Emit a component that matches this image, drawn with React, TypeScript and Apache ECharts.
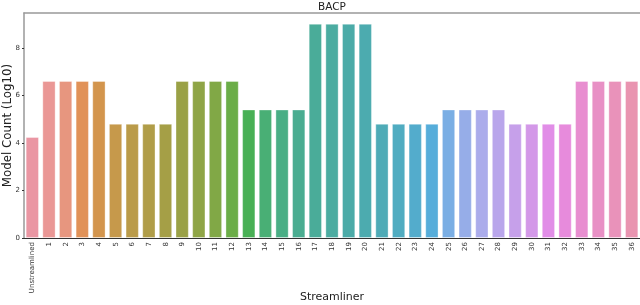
import React, { useEffect, useRef } from "react";
import * as echarts from "echarts";

const categories: string[] = [
  "Unstreamlined", "1", "2", "3", "4", "5", "6", "7", "8", "9", "10", "11", "12",
  "13", "14", "15", "16", "17", "18", "19", "20", "21", "22", "23", "24",
  "25", "26", "27", "28", "29", "30", "31", "32", "33", "34", "35", "36",
];
const modelCountLog10: number[] = [
  4.25,
  6.61, 6.61, 6.61, 6.61,
  4.81, 4.81, 4.81, 4.81,
  6.61, 6.61, 6.61, 6.61,
  5.41, 5.41, 5.41, 5.41,
  9.02, 9.02, 9.02, 9.02,
  4.81, 4.81, 4.81, 4.81,
  5.41, 5.41, 5.41, 5.41,
  4.81, 4.81, 4.81, 4.81,
  6.61, 6.61, 6.61, 6.61,
];
const yTicks: number[] = [0, 2, 4, 6, 8];

// ---- seaborn husl palette (l=.7) desaturated to .75 ----
const M = [
  [3.2406, -1.5372, -0.4986],
  [-0.9689, 1.8758, 0.0415],
  [0.0557, -0.204, 1.057],
];
const refU = 0.19784;
const refV = 0.46834;
function maxChroma(L: number, H: number) {
  const hrad = (H * Math.PI) / 180;
  const sinH = Math.sin(hrad);
  const cosH = Math.cos(hrad);
  const sub1 = Math.pow(L + 16, 3) / 1560896.0;
  const sub2 = sub1 > 0.008856 ? sub1 : L / 903.3;
  let result = Infinity;
  for (const row of M) {
    const [m1, m2, m3] = row;
    const top = (0.99915 * m1 + 1.05122 * m2 + 1.1446 * m3) * sub2;
    const rbottom = 0.8633 * m3 - 0.17266 * m2;
    const lbottom = 0.12949 * m3 - 0.38848 * m1;
    const bottom = (rbottom * sinH + lbottom * cosH) * sub2;
    for (const t of [0, 1]) {
      const C = (L * (top - 1.05122 * t)) / (bottom + 0.17266 * sinH * t);
      if (C > 0 && C < result) result = C;
    }
  }
  return result;
}
function fInv(t: number) {
  return Math.pow(t, 3) > 0.008856 ? Math.pow(t, 3) : (116 * t - 16) / 903.3;
}
function fromLinear(c: number) {
  return c <= 0.0031308 ? 12.92 * c : 1.055 * Math.pow(c, 1 / 2.4) - 0.055;
}
function huslToRgb(h: number, s: number, l: number): number[] {
  const C = (maxChroma(l, h) / 100) * s;
  const hr = (h * Math.PI) / 180;
  const U = Math.cos(hr) * C;
  const V = Math.sin(hr) * C;
  const Y = fInv((l + 16) / 116);
  const varU = U / (13 * l) + refU;
  const varV = V / (13 * l) + refV;
  const X = 0 - (9 * Y * varU) / ((varU - 4) * varV - varU * varV);
  const Z = (9 * Y - 15 * varV * Y - varV * X) / (3 * varV);
  return M.map((r) => Math.min(1, Math.max(0, fromLinear(r[0] * X + r[1] * Y + r[2] * Z))));
}
function rgbToHls(r: number, g: number, b: number) {
  const maxc = Math.max(r, g, b);
  const minc = Math.min(r, g, b);
  const l = (minc + maxc) / 2;
  if (maxc === minc) return [0, l, 0];
  const s = l <= 0.5 ? (maxc - minc) / (maxc + minc) : (maxc - minc) / (2 - maxc - minc);
  const rc = (maxc - r) / (maxc - minc);
  const gc = (maxc - g) / (maxc - minc);
  const bc = (maxc - b) / (maxc - minc);
  let h;
  if (r === maxc) h = bc - gc;
  else if (g === maxc) h = 2 + rc - bc;
  else h = 4 + gc - rc;
  h = (((h / 6) % 1) + 1) % 1;
  return [h, l, s];
}
function v(m1: number, m2: number, hue: number) {
  hue = ((hue % 1) + 1) % 1;
  if (hue < 1 / 6) return m1 + (m2 - m1) * hue * 6;
  if (hue < 0.5) return m2;
  if (hue < 2 / 3) return m1 + (m2 - m1) * (2 / 3 - hue) * 6;
  return m1;
}
function hlsToRgb(h: number, l: number, s: number) {
  if (s === 0) return [l, l, l];
  const m2 = l <= 0.5 ? l * (1 + s) : l + s - l * s;
  const m1 = 2 * l - m2;
  return [v(m1, m2, h + 1 / 3), v(m1, m2, h), v(m1, m2, h - 1 / 3)];
}
function palette(n: number): string[] {
  const out: string[] = [];
  for (let i = 0; i < n; i++) {
    let h = i / n + 0.01;
    h = (h % 1) * 359;
    const [r, g, b] = huslToRgb(h, 0.9 * 99, 0.7 * 99);
    const [hh, ll, ss] = rgbToHls(r, g, b);
    const [r2, g2, b2] = hlsToRgb(hh, ll, ss * 0.75);
    const toHex = (x: number) => Math.round(x * 255).toString(16).padStart(2, "0");
    out.push("#" + toHex(r2) + toHex(g2) + toHex(b2));
  }
  return out;
}

export default function App() {
  const ref = useRef<HTMLDivElement>(null);
  useEffect(() => {
    if (!ref.current) return;
    const chart = echarts.init(ref.current, undefined, { renderer: "svg" });
    const colors = palette(categories.length);
    const font = "DejaVu Sans";
    chart.setOption({
      animation: false,
      textStyle: { fontFamily: font },
      title: {
        text: "BACP",
        left: 332,
        textAlign: "center",
        top: 0,
        padding: 0,
        textStyle: { fontFamily: font, fontSize: 10.5, fontWeight: "normal", color: "#222" },
      },
      grid: {
        left: 24,
        right: 0,
        top: 13,
        bottom: 67,
        containLabel: false,
        outerBoundsMode: "none",
      },
      xAxis: [
        {
          type: "category",
          data: categories,
          name: "Streamliner",
          nameLocation: "middle",
          nameGap: 53,
          nameMoveOverlap: false,
          nameTextStyle: { fontFamily: font, fontSize: 11, color: "#222" },
          axisLine: { lineStyle: { color: "#333", width: 1 } },
          axisTick: { alignWithLabel: true, length: 3, lineStyle: { color: "#333" } },
          axisLabel: {
            rotate: 90,
            interval: 0,
            fontSize: 7,
            color: "#333",
            margin: 4,
            fontFamily: font,
          },
        },
        {
          type: "category",
          data: categories,
          position: "top",
          axisLine: { lineStyle: { color: "#999", width: 1.5 } },
          axisTick: { show: false },
          axisLabel: { show: false },
        },
      ],
      yAxis: {
        type: "value",
        min: 0,
        max: 9.47,
        interval: 2,
        name: "Model Count (Log10)",
        nameLocation: "middle",
        nameGap: 11,
        nameMoveOverlap: false,
        nameTextStyle: { fontFamily: font, fontSize: 11.8, color: "#222" },
        splitLine: { show: false },
        axisLine: { show: true, lineStyle: { color: "#999", width: 1.5 } },
        axisTick: { show: true, length: 2, lineStyle: { color: "#333" }, customValues: yTicks },
        axisLabel: { fontSize: 7, color: "#333", margin: 4, fontFamily: font, customValues: yTicks },
      },
      series: [
        {
          type: "bar",
          xAxisIndex: 0,
          data: modelCountLog10.map((val, i) => ({
            value: val,
            itemStyle: { color: colors[i] },
          })),
          barCategoryGap: "20%",
          itemStyle: { borderColor: "rgba(255,255,255,0.35)", borderWidth: 1 },
        },
      ],
    });
    return () => chart.dispose();
  }, []);
  return (
    <div
      ref={ref}
      style={{ position: "fixed", left: 0, top: 0, width: 640, height: 305 }}
    />
  );
}
